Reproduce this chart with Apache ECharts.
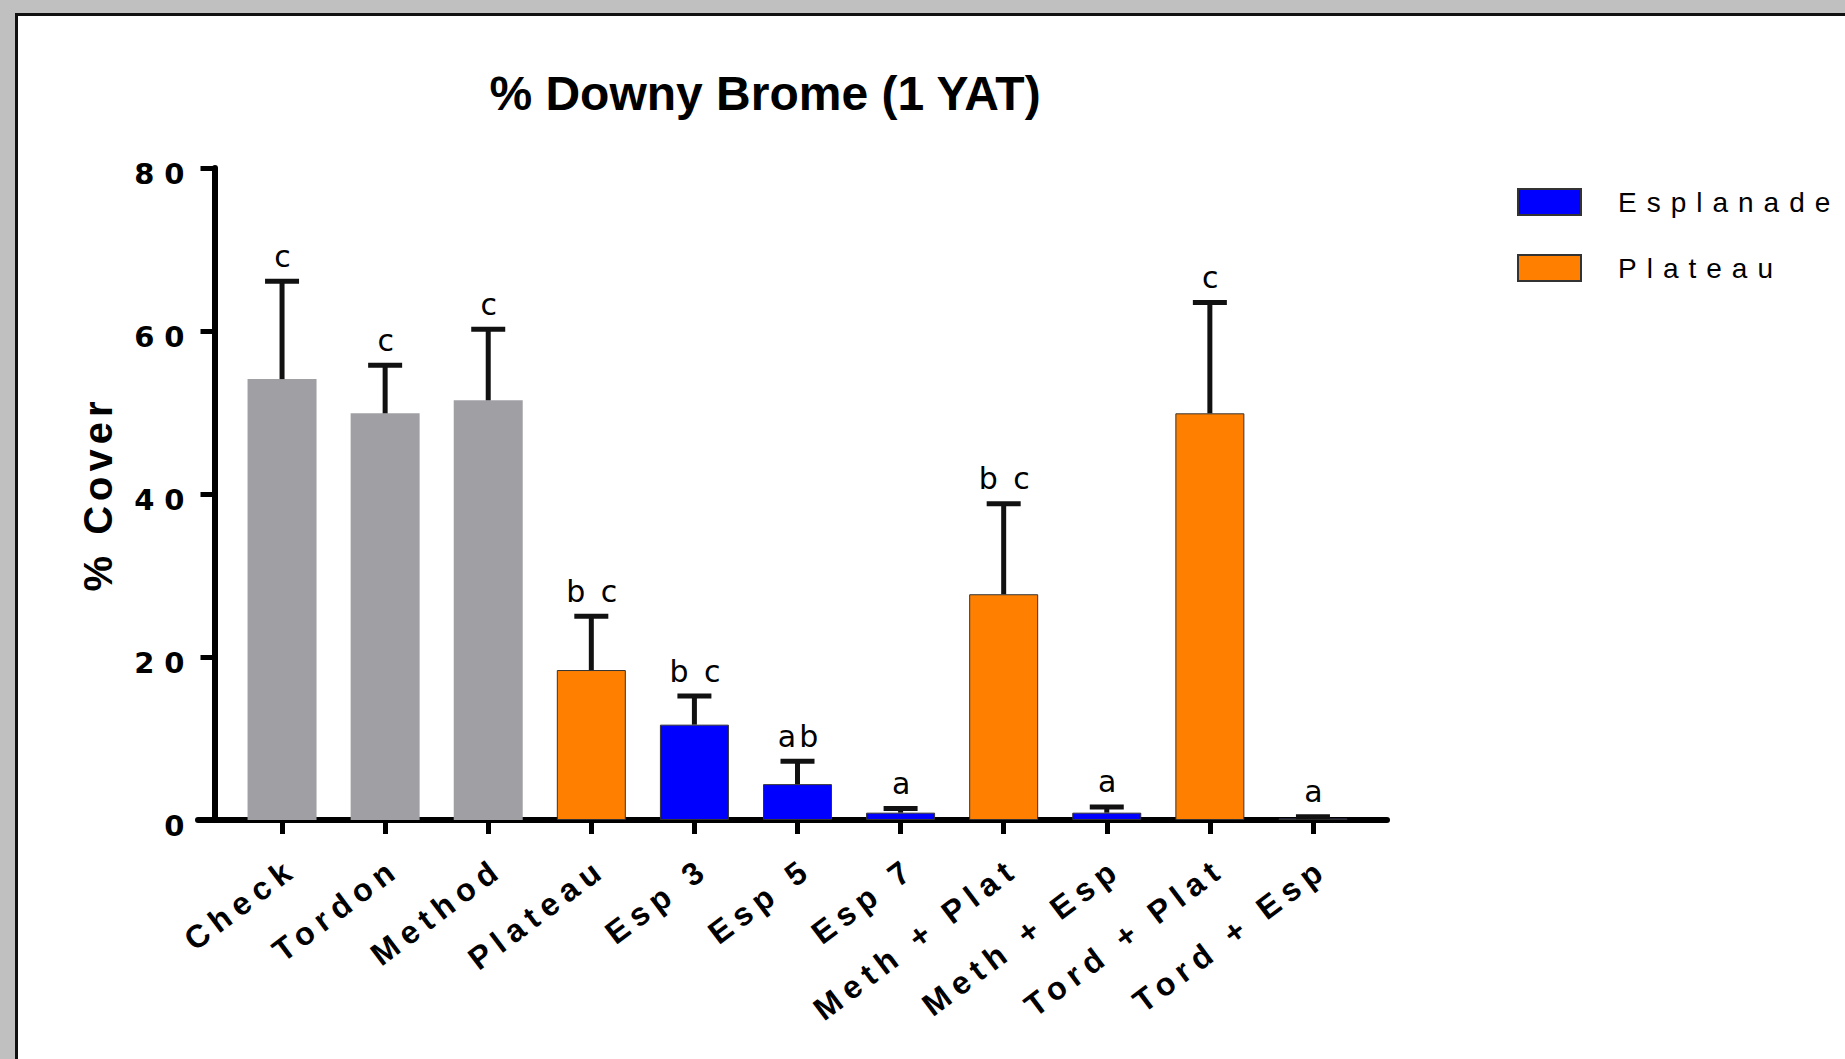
<!DOCTYPE html>
<html>
<head>
<meta charset="utf-8">
<title>% Downy Brome (1 YAT)</title>
<script src="https://cdn.jsdelivr.net/npm/echarts@6/dist/echarts.min.js"></script>
<style>
  html, body { margin: 0; padding: 0; width: 1845px; height: 1059px; overflow: hidden; background: #c0c0c0; }
  #sheet { position: absolute; left: 15px; top: 13px; right: 0; bottom: 0; background: #fff;
           border-left: 3px solid #111; border-top: 3px solid #111; }
  #chart { position: absolute; left: 0; top: 0; width: 1845px; height: 1059px; }
  /* wide tracking for the axis and legend typography */
  #chart text[style*="sp10"] { letter-spacing: 10px; }
  #chart text[style*="sp7"]  { letter-spacing: 7px; }
  #chart text[style*="sp5"]  { letter-spacing: 5px; }
  #chart text[style*="sp3"]  { letter-spacing: 3px; }
</style>
</head>
<body>
<div id="sheet"></div>
<div id="chart"></div>
<script>
// Treatments along the x axis
const categories = ['Check', 'Tordon', 'Method', 'Plateau', 'Esp 3', 'Esp 5', 'Esp 7',
                    'Meth + Plat', 'Meth + Esp', 'Tord + Plat', 'Tord + Esp'];
// Herbicide group each treatment belongs to
const treatmentGroup = ['Control', 'Control', 'Control', 'Plateau', 'Esplanade', 'Esplanade', 'Esplanade',
                        'Plateau', 'Esplanade', 'Plateau', 'Esplanade'];
// Mean % cover of downy brome, one year after treatment
const meanCover = [54.1, 49.9, 51.5, 18.4, 11.7, 4.4, 0.9, 27.7, 0.9, 49.9, 0.2];
// Upper error (standard error of the mean)
const errCover = [12.0, 5.9, 8.7, 6.6, 3.5, 2.8, 0.5, 11.1, 0.7, 13.6, 0.2];
// Mean separation letters
const sigLetters = ['c', 'c', 'c', 'b c', 'b c', 'ab', 'a', 'b c', 'a', 'c', 'a'];
// Y axis ticks
const yTicks = [0, 20, 40, 60, 80];
// Legend entries
const legendGroups = ['Esplanade', 'Plateau'];

const groupColors = { Control: '#a09fa4', Esplanade: '#0000ff', Plateau: '#ff8000' };
const FONT = "'Liberation Sans', Arial, sans-serif";

const chart = echarts.init(document.getElementById('chart'), null, { renderer: 'svg' });

const barSeries = ['Control', 'Esplanade', 'Plateau'].map(function (g) {
  return {
    name: g,
    type: 'bar',
    xAxisIndex: 0,
    yAxisIndex: 0,
    barWidth: 69,
    barGap: '-100%',
    itemStyle: {
      color: groupColors[g],
      borderColor: g === 'Control' ? groupColors[g] : '#333',
      borderWidth: g === 'Control' ? 0 : 1
    },
    emphasis: { disabled: true },
    data: meanCover.map(function (v, i) { return treatmentGroup[i] === g ? v : '-'; }),
    z: 2
  };
});

const errorSeries = {
  name: 'error',
  type: 'custom',
  xAxisIndex: 0,
  yAxisIndex: 0,
  z: 5,
  silent: true,
  encode: { x: 0, y: 1 },
  data: meanCover.map(function (m, i) { return [i, m, errCover[i]]; }),
  renderItem: function (params, api) {
    const i = api.value(0);
    const m = api.value(1);
    const e = api.value(2);
    const base = api.coord([i, m]);
    const top = api.coord([i, m + e]);
    const half = 17;
    const ink = '#111';
    return {
      type: 'group',
      children: [
        { type: 'line', shape: { x1: base[0], y1: base[1], x2: top[0], y2: top[1] },
          style: { stroke: ink, lineWidth: 5 } },
        { type: 'line', shape: { x1: top[0] - half, y1: top[1], x2: top[0] + half, y2: top[1] },
          style: { stroke: ink, lineWidth: 5 } },
        { type: 'text', x: top[0] + 2, y: top[1] - 25,
          style: { text: sigLetters[i], fill: '#000', fontSize: 30,
                   fontFamily: "sp3, 'DejaVu Sans', sans-serif",
                   align: 'center', verticalAlign: 'middle' } }
      ]
    };
  }
};

const option = {
  backgroundColor: 'transparent',
  animation: false,
  title: {
    text: '% Downy Brome (1 YAT)',
    left: 765,
    textAlign: 'center',
    top: 69,
    padding: 0,
    textStyle: { fontFamily: FONT, fontSize: 48, fontWeight: 'bold', color: '#000' }
  },
  legend: {
    data: legendGroups,
    orient: 'vertical',
    left: 1517,
    top: 183.5,
    padding: 0,
    itemWidth: 63,
    itemHeight: 26,
    itemGap: 29,
    icon: 'rect',
    selectedMode: false,
    textStyle: { fontFamily: "sp10, 'Liberation Sans', Arial, sans-serif", fontSize: 28,
                 color: '#000', lineHeight: 30, padding: [7, 0, 0, 32] }
  },
  grid: [
    { left: 230.5, right: 480.5, top: 168, bottom: 239, containLabel: false },
    { left: 198, right: 458, top: 168, bottom: 239, containLabel: false }
  ],
  xAxis: [
    {
      type: 'category',
      gridIndex: 0,
      data: categories,
      axisLine: { show: false },
      axisTick: { show: true, alignWithLabel: true, length: 14, lineStyle: { color: '#000', width: 5 } },
      axisLabel: {
        interval: 0,
        rotate: 37,
        margin: 30,
        verticalAlign: 'top',
        padding: [2, 0, 0, 0],
        color: '#000',
        fontSize: 32,
        fontWeight: 'bold',
        fontFamily: "sp7, 'Liberation Sans', Arial, sans-serif"
      },
      splitLine: { show: false }
    },
    {
      type: 'value',
      gridIndex: 1,
      min: 0,
      max: 1,
      axisLine: { show: true, lineStyle: { color: '#000', width: 6 } },
      axisTick: { show: false },
      axisLabel: { show: false },
      splitLine: { show: false }
    }
  ],
  yAxis: [
    {
      type: 'value',
      gridIndex: 0,
      min: yTicks[0],
      max: yTicks[yTicks.length - 1],
      interval: yTicks[1] - yTicks[0],
      offset: 16,
      name: '% Cover',
      nameLocation: 'middle',
      nameRotate: 90,
      nameGap: 97,
      nameTextStyle: { fontFamily: "sp5, 'Liberation Sans', Arial, sans-serif", fontSize: 40,
                       fontWeight: 'bold', color: '#000' },
      axisLine: { show: true, lineStyle: { color: '#000', width: 6 } },
      axisTick: { show: true, length: 14, lineStyle: { color: '#000', width: 5 } },
      axisLabel: {
        margin: 20,
        verticalAlign: 'top',
        lineHeight: 12,
        color: '#000',
        fontSize: 29,
        fontWeight: 'bold',
        fontFamily: "sp10, 'DejaVu Sans', sans-serif"
      },
      splitLine: { show: false }
    },
    {
      type: 'value',
      gridIndex: 1,
      min: 0,
      max: 1,
      show: false
    }
  ],
  series: barSeries.concat([errorSeries])
};

chart.setOption(option);
</script>
</body>
</html>
